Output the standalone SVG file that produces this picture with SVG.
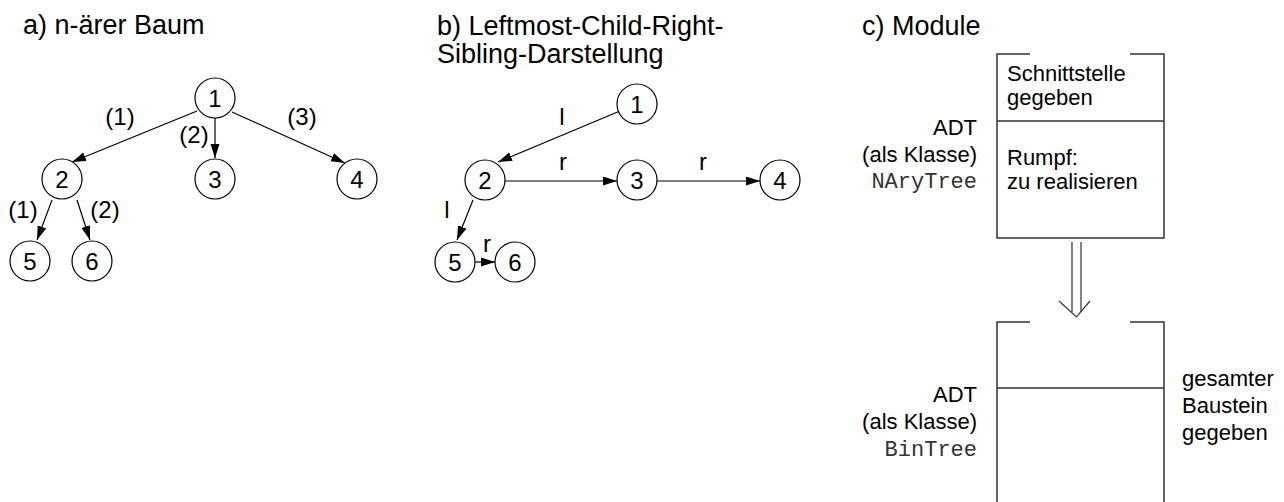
<svg xmlns="http://www.w3.org/2000/svg" width="1284" height="502" viewBox="0 0 1284 502">
<style>
text{font-family:"Liberation Sans",Arial,Helvetica,sans-serif;fill:#000}
.title{font-size:27px}
.num{font-size:24px;text-anchor:middle}
.lab{font-size:24px;text-anchor:middle}
.box{font-size:22px}
.side{font-size:22px;text-anchor:end}
.mono{font-family:"Liberation Mono","Courier New",monospace;font-size:22px;text-anchor:end;fill:#333}
circle{fill:#fff;stroke:#000;stroke-width:1.2}
.edge{stroke:#000;stroke-width:1.2;fill:none;marker-end:url(#arr)}
.frame{stroke:#333;stroke-width:1.5;fill:none}
</style>
<defs>
<marker id="arr" markerUnits="userSpaceOnUse" markerWidth="15" markerHeight="10" refX="14" refY="4.5" orient="auto">
<path d="M0,0 L14,4.5 L0,9 z" fill="#000"/>
</marker>
</defs>

<text class="title" x="23" y="34">a) n-ärer Baum</text>
<text class="title" x="437" y="35">b) Leftmost-Child-Right-</text>
<text class="title" x="437" y="63">Sibling-Darstellung</text>
<text class="title" x="862" y="35">c) Module</text>

<g id="connectors">
<line class="edge" x1="197" y1="111" x2="72" y2="162"/>
<line class="edge" x1="215" y1="118" x2="215" y2="158"/>
<line class="edge" x1="232" y1="112" x2="345" y2="163"/>
<line class="edge" x1="52" y1="200" x2="37" y2="240"/>
<line class="edge" x1="77" y1="200" x2="90" y2="240"/>

<line class="edge" x1="620" y1="111" x2="498" y2="162"/>
<line class="edge" x1="505" y1="181" x2="617" y2="181"/>
<line class="edge" x1="657" y1="181" x2="760" y2="181"/>
<line class="edge" x1="473" y1="200" x2="457" y2="240"/>
<line class="edge" x1="475" y1="262" x2="495" y2="262"/>

<g id="refine-arrow" fill="none" stroke="#333" stroke-width="1.2">
<line x1="1072" y1="242" x2="1072" y2="312"/>
<line x1="1081" y1="242" x2="1081" y2="312"/>
<path d="M1059,301 L1076.5,317 L1090,301"/>
</g>
</g>

<g id="edge-labels">
<text class="lab" x="120" y="125">(1)</text>
<text class="lab" x="194" y="143">(2)</text>
<text class="lab" x="302" y="125">(3)</text>
<text class="lab" x="23" y="218">(1)</text>
<text class="lab" x="105" y="218">(2)</text>
<text class="lab" x="562" y="125">l</text>
<text class="lab" x="563" y="170">r</text>
<text class="lab" x="703" y="170">r</text>
<text class="lab" x="447" y="218">l</text>
<text class="lab" x="487" y="252">r</text>
</g>

<g id="a1"><circle cx="215" cy="98" r="20"/><text class="num" x="215" y="106.5">1</text></g>
<g id="a2"><circle cx="62" cy="179" r="20"/><text class="num" x="62" y="187.5">2</text></g>
<g id="a3"><circle cx="215" cy="179" r="20"/><text class="num" x="215" y="187.5">3</text></g>
<g id="a4"><circle cx="357" cy="179" r="20"/><text class="num" x="357" y="187.5">4</text></g>
<g id="a5"><circle cx="30" cy="261" r="20"/><text class="num" x="30" y="269.5">5</text></g>
<g id="a6"><circle cx="92" cy="261" r="20"/><text class="num" x="92" y="269.5">6</text></g>

<g id="b1"><circle cx="637" cy="104" r="20"/><text class="num" x="637" y="112.5">1</text></g>
<g id="b2"><circle cx="485" cy="180" r="20"/><text class="num" x="485" y="188.5">2</text></g>
<g id="b3"><circle cx="637" cy="180" r="20"/><text class="num" x="637" y="188.5">3</text></g>
<g id="b4"><circle cx="780" cy="180" r="20"/><text class="num" x="780" y="188.5">4</text></g>
<g id="b5"><circle cx="455" cy="262" r="20"/><text class="num" x="455" y="270.5">5</text></g>
<g id="b6"><circle cx="515" cy="262" r="20"/><text class="num" x="515" y="270.5">6</text></g>

<g id="module-nary">
<path class="frame" d="M1030,54 H997 V238 H1164 V54 H1130"/>
<line class="frame" x1="997" y1="121" x2="1164" y2="121"/>
<text class="box" x="1007" y="81">Schnittstelle</text>
<text class="box" x="1007" y="105">gegeben</text>
<text class="box" x="1007" y="165">Rumpf:</text>
<text class="box" x="1007" y="189">zu realisieren</text>
<text class="side" x="977" y="135">ADT</text>
<text class="side" x="977" y="162">(als Klasse)</text>
<text class="mono" x="977" y="188">NAryTree</text>
</g>

<g id="module-bin">
<path class="frame" d="M1030,322 H997 V510"/>
<path class="frame" d="M1130,322 H1164 V510"/>
<line class="frame" x1="997" y1="388" x2="1164" y2="388"/>
<text class="side" x="977" y="402">ADT</text>
<text class="side" x="977" y="429">(als Klasse)</text>
<text class="mono" x="977" y="456">BinTree</text>
<text class="box" x="1182" y="386">gesamter</text>
<text class="box" x="1182" y="413">Baustein</text>
<text class="box" x="1182" y="440">gegeben</text>
</g>
</svg>
